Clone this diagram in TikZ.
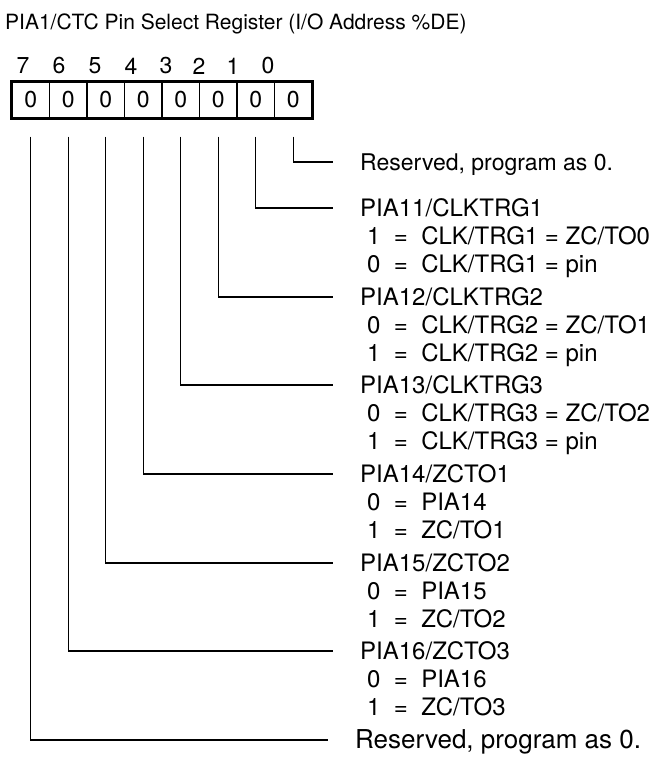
\documentclass[tikz,border=0pt]{standalone}
\usepackage{fontspec}
\setmainfont{TeX Gyre Heros}
\usetikzlibrary{positioning}

\begin{document}
\begin{tikzpicture}[x=1pt, y=-1pt,
    cell/.style={draw, line width=1.2pt, minimum width=37.5pt, minimum height=36pt,
        inner sep=0pt, font=\fontsize{23}{26}\selectfont},
    bitno/.style={inner sep=0pt, font=\fontsize{23}{26}\selectfont},
    lbl/.style={anchor=west, inner sep=0pt, text height=17pt, text depth=0pt,
        font=\fontsize{24}{28}\selectfont},
    lblres/.style={lbl, font=\fontsize{23}{27}\selectfont},
    lblbig/.style={lbl, font=\fontsize{26}{30}\selectfont},
    lead/.style={line width=1.3pt, shorten <=18pt, shorten >=27pt}
]
    \useasboundingbox (0,0) rectangle (661,757);

    % Title
    \node[lbl, font=\fontsize{21}{24}\selectfont, text height=15pt] (title) at (5,22)
        {PIA1/CTC Pin Select Register (I/O Address \%DE)};

    % Register cells, bit 7 on the left
    \foreach \b [count=\k from 0] in {7,...,0}
        \node[cell] (c\b) at (30.75+37.5*\k,100) {0};
    \draw[line width=3pt] (c7.north west) rectangle (c0.south east);

    % Bit numbers
    \foreach \b/\x in {7/23,6/59,5/95,4/131,3/166,2/199,1/233,0/268}
        \node[bitno] (n\b) at (\x,66) {\b};

    % Bit 0
    \node[lblres] (h0) at (360,162) {Reserved, program as 0.};

    % Bit 1
    \node[lbl] (h1) at (360,208) {PIA11/CLKTRG1};
    \node[lbl] (h1a) at (367,236) {1~~=~~CLK/TRG1 = ZC/TO0};
    \node[lbl] (h1b) at (367,264) {0~~=~~CLK/TRG1 = pin};

    % Bit 2
    \node[lbl] (h2) at (360,297) {PIA12/CLKTRG2};
    \node[lbl] (h2a) at (367,325) {0~~=~~CLK/TRG2 = ZC/TO1};
    \node[lbl] (h2b) at (367,353) {1~~=~~CLK/TRG2 = pin};

    % Bit 3
    \node[lbl] (h3) at (360,385) {PIA13/CLKTRG3};
    \node[lbl] (h3a) at (367,413) {0~~=~~CLK/TRG3 = ZC/TO2};
    \node[lbl] (h3b) at (367,441) {1~~=~~CLK/TRG3 = pin};

    % Bit 4
    \node[lbl] (h4) at (360,474) {PIA14/ZCTO1};
    \node[lbl] (h4a) at (367,502) {0~~=~~PIA14};
    \node[lbl] (h4b) at (367,530) {1~~=~~ZC/TO1};

    % Bit 5
    \node[lbl] (h5) at (360,563) {PIA15/ZCTO2};
    \node[lbl] (h5a) at (367,591) {0~~=~~PIA15};
    \node[lbl] (h5b) at (367,619) {1~~=~~ZC/TO2};

    % Bit 6
    \node[lbl] (h6) at (360,651) {PIA16/ZCTO3};
    \node[lbl] (h6a) at (367,679) {0~~=~~PIA16};
    \node[lbl] (h6b) at (367,707) {1~~=~~ZC/TO3};

    % Bit 7
    \node[lblbig] (h7) at (355,740) {Reserved, program as 0.};

    % Leader lines from the bits
    \foreach \b in {0,...,7}
        \draw[lead] (c\b.south) |- (h\b.west);
\end{tikzpicture}
\end{document}
